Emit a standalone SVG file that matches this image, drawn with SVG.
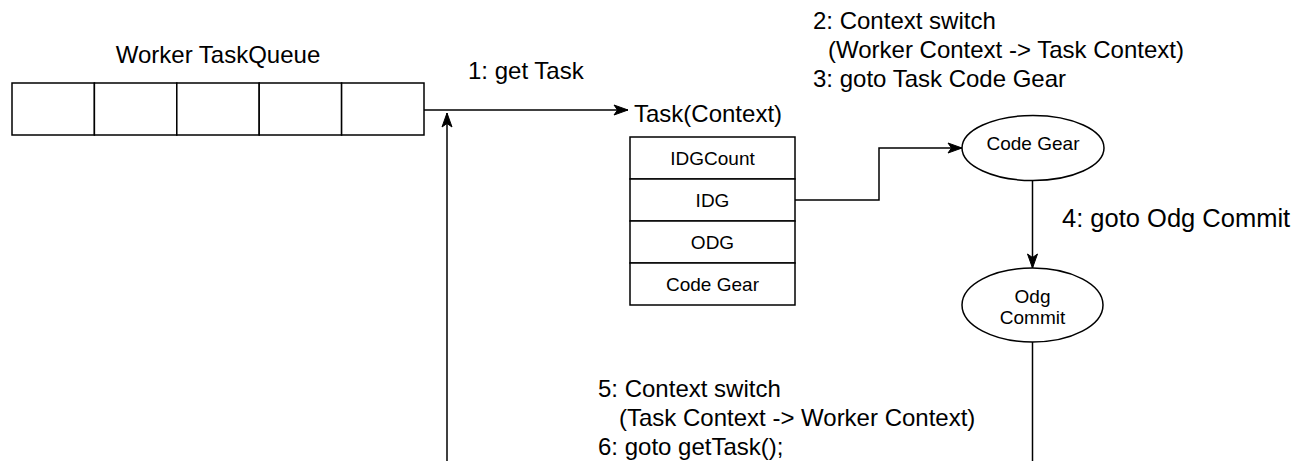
<svg xmlns="http://www.w3.org/2000/svg" width="1313" height="461" viewBox="0 0 1313 461">
<style>
.shape{fill:#fff;stroke:#000;stroke-width:1.5}
.line{fill:none;stroke:#000;stroke-width:1.5}
.big{font-family:"Liberation Sans",Arial,Helvetica,sans-serif;font-size:24px;fill:#000}
.small{font-family:"Liberation Sans",Arial,Helvetica,sans-serif;font-size:19px;fill:#000;text-anchor:middle}
</style>
<defs>
<marker id="arr" markerUnits="userSpaceOnUse" markerWidth="16" markerHeight="12" refX="15" refY="6" orient="auto">
<path d="M1,1 L15,6 L1,11 L4.5,6 Z" fill="#000" stroke="#000" stroke-width="1"/>
</marker>
</defs>
<rect width="1313" height="461" fill="#fff"/>
<g id="queue">
<text class="big" x="218" y="63" text-anchor="middle">Worker TaskQueue</text>
<rect class="shape" x="12" y="83" width="82.4" height="52"/>
<rect class="shape" x="94.4" y="83" width="82.4" height="52"/>
<rect class="shape" x="176.8" y="83" width="82.4" height="52"/>
<rect class="shape" x="259.2" y="83" width="82.4" height="52"/>
<rect class="shape" x="341.6" y="83" width="82.4" height="52"/>
</g>
<g id="task">
<text class="big" x="634" y="122">Task(Context)</text>
<rect class="shape" x="630" y="137" width="165" height="42"/>
<rect class="shape" x="630" y="179" width="165" height="42"/>
<rect class="shape" x="630" y="221" width="165" height="42"/>
<rect class="shape" x="630" y="263" width="165" height="42"/>
<text class="small" x="712.5" y="165">IDGCount</text>
<text class="small" x="712.5" y="207">IDG</text>
<text class="small" x="712.5" y="249">ODG</text>
<text class="small" x="712.5" y="291">Code Gear</text>
</g>
<g id="codegear">
<ellipse class="shape" cx="1033" cy="148" rx="71" ry="32.5"/>
<text class="small" x="1033" y="150">Code Gear</text>
</g>
<g id="odgcommit">
<ellipse class="shape" cx="1032.5" cy="305" rx="70.5" ry="37"/>
<text class="small" x="1032.5" y="303">Odg</text>
<text class="small" x="1032.5" y="324">Commit</text>
</g>
<g id="connectors">
<path class="line" d="M424,110 H628" marker-end="url(#arr)"/>
<path class="line" d="M447,461 V113" marker-end="url(#arr)"/>
<path class="line" d="M795,200 H879 V148 H962" marker-end="url(#arr)"/>
<path class="line" d="M1032.5,180.5 V268" marker-end="url(#arr)"/>
<path class="line" d="M1032.5,342 V461"/>
</g>
<g id="labels">
<text class="big" x="468" y="79">1: get Task</text>
<text class="big" x="813" y="29">2: Context switch</text>
<text class="big" x="828" y="58">(Worker Context -&gt; Task Context)</text>
<text class="big" x="813" y="87">3: goto Task Code Gear</text>
<text class="big" x="1062" y="227" style="font-size:25.5px">4: goto Odg Commit</text>
<text class="big" x="598" y="397">5: Context switch</text>
<text class="big" x="619" y="426">(Task Context -&gt; Worker Context)</text>
<text class="big" x="598" y="455">6: goto getTask();</text>
</g>
</svg>
